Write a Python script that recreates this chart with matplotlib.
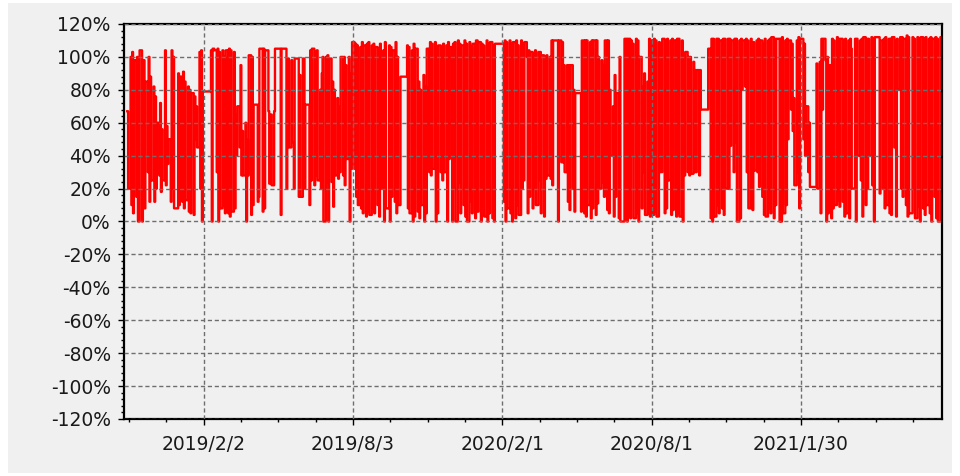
import pandas as pd
import matplotlib
matplotlib.use("Agg")
import matplotlib.pyplot as plt
import matplotlib.dates as mdates
from matplotlib.patches import Rectangle

# trading days with market closures (CN exchange holidays)
start_day, end_day = "2018-11-01", "2021-07-20"
closed = [
    ("2018-12-31", "2019-01-01"), ("2019-02-04", "2019-02-08"),
    ("2019-04-05", "2019-04-05"), ("2019-05-01", "2019-05-03"),
    ("2019-06-07", "2019-06-07"), ("2019-09-13", "2019-09-13"),
    ("2019-10-01", "2019-10-07"), ("2020-01-01", "2020-01-01"),
    ("2020-01-24", "2020-01-31"), ("2020-04-06", "2020-04-06"),
    ("2020-05-01", "2020-05-05"), ("2020-06-25", "2020-06-26"),
    ("2020-10-01", "2020-10-08"), ("2021-01-01", "2021-01-01"),
    ("2021-02-11", "2021-02-17"), ("2021-04-05", "2021-04-05"),
    ("2021-05-03", "2021-05-05"), ("2021-06-14", "2021-06-14"),
]

# position (%) per trading day, one inner list per month
vals_2018 = [  # starts November
    [67, 20, 100, 10, 103, 5, 98, 15, 100, 0, 0, 104, 0, 60, 98, 8, 85, 30, 100, 12, 88, 25],
    [82, 12, 76, 20, 60, 28, 72, 18, 56, 25, 104, 22, 58, 35, 50, 12, 104, 20, 100, 8],
]
vals_2019 = [
    [90, 10, 88, 12, 91, 8, 85, 13, 82, 6, 80, 5, 78, 4, 76, 50, 70, 45, 103, 20, 104, 0],
    [79, 104, 0, 105, 105, 104, 30, 105, 0, 103, 8, 104, 10, 100, 5],
    [104, 5, 105, 3, 104, 6, 103, 8, 65, 40, 70, 45, 95, 28, 55, 28, 60, 0, 50, 28, 101],
    [4, 100, 10, 71, 71, 12, 15, 105, 105, 6, 105, 8, 104, 104, 67, 23, 23, 65, 22, 67, 105],
    [105, 4, 105, 105, 105, 105, 20, 99, 99, 45, 98, 48, 48, 20, 99, 99, 99, 15, 89, 15],
    [99, 99, 20, 71, 71, 10, 104, 25, 105, 22, 103, 28, 104, 25, 80, 20, 90, 100, 0],
    [100, 24, 101, 0, 99, 24, 85, 9, 80, 28, 75, 26, 70, 30, 100, 28, 100, 22, 95, 38, 100, 0, 90],
    [32, 109, 32, 108, 15, 107, 10, 106, 8, 109, 5, 107, 3, 108, 6, 109, 4, 107, 8, 108, 5, 106],
    [10, 105, 3, 108, 20, 104, 0, 109, 8, 107, 0, 106, 15, 104, 12, 109, 5, 100, 10, 88],
    [107, 8, 106, 5, 104, 0, 108, 3, 105, 6, 85, 2, 80, 10, 89, 0, 82, 5],
    [105, 30, 109, 28, 108, 32, 109, 0, 106, 5, 107, 30, 106, 25, 108, 30, 107, 0, 109, 38, 106],
    [0, 108, 20, 109, 0, 110, 24, 108, 5, 107, 10, 110, 3, 108, 0, 109, 12, 106, 5, 108, 2, 110],
]
vals_2020 = [
    [6, 109, 0, 108, 10, 107, 3, 110, 0, 108, 5, 109, 2, 107, 0, 108],
    [12, 110, 0, 109, 8, 110, 5, 108, 0, 109, 2, 110, 10, 107, 4, 110, 20, 108, 25, 109],
    [100, 5, 104, 15, 103, 8, 102, 20, 104, 10, 103, 25, 103, 5, 101, 3, 100, 26, 101, 28, 100, 26],
    [110, 22, 110, 110, 110, 0, 110, 36, 109, 36, 95, 30, 95, 12, 95, 7, 95, 20, 80, 6, 78],
    [78, 6, 110, 5, 110, 3, 110, 10, 109, 2, 110, 8, 110, 4, 110, 11, 100, 20],
    [98, 24, 95, 15, 110, 7, 110, 5, 80, 40, 70, 3, 89, 15, 78, 2, 100, 0, 111, 1],
    [111, 0, 111, 2, 110, 40, 108, 2, 111, 5, 110, 0, 100, 8, 82, 30, 90, 4, 85, 5, 111, 3, 110],
    [4, 111, 6, 110, 3, 109, 30, 108, 30, 111, 5, 110, 8, 111, 25, 110, 4, 111, 7, 110, 3],
    [111, 5, 111, 3, 110, 0, 97, 28, 103, 30, 100, 28, 100, 29, 97, 30, 92, 30, 92, 28, 92, 68],
    [105, 2, 111, 0, 111, 3, 111, 10, 111, 5, 110, 8, 111, 4, 111, 20],
    [111, 20, 111, 46, 110, 30, 111, 48, 111, 0, 110, 2, 111, 80, 110, 82, 111, 30, 110, 8, 111],
    [40, 7, 109, 31, 110, 30, 111, 21, 110, 15, 108, 4, 111, 3, 110, 8, 111, 5, 112, 2, 111, 10, 111],
]
vals_2021 = [
    [0, 111, 0, 112, 5, 110, 10, 111, 50, 110, 68, 108, 55, 75, 22, 110, 30, 112, 8, 111],
    [111, 50, 108, 40, 70, 30, 60, 21, 96, 20, 97, 5, 111, 68, 111],
    [98, 0, 100, 5, 95, 2, 111, 8, 110, 10, 112, 13, 111, 9, 111, 12, 110, 3, 111, 5, 110, 2, 111],
    [105, 20, 111, 0, 111, 40, 110, 25, 111, 3, 112, 10, 111, 20, 111, 40, 112, 22, 111, 0, 112],
    [17, 110, 20, 111, 8, 112, 10, 111, 5, 111, 4, 112, 45, 110, 3, 111, 80, 112],
    [20, 112, 15, 111, 10, 113, 3, 112, 5, 112, 20, 111, 2, 112, 9, 111, 0, 112, 8, 111, 4],
    [112, 10, 111, 5, 112, 0, 111, 15, 112, 2, 111, 0, 112, 5],
]

yticks = list(range(-120, 121, 20))
first_tick = pd.Timestamp("2019-02-02")

# build the trading calendar
cal = pd.bdate_range(start_day, end_day)
off = pd.DatetimeIndex([])
for a, b in closed:
    off = off.append(pd.date_range(a, b))
cal = cal[~cal.isin(off)]

dates, values = [], []
for year, m0, months in [(2018, 11, vals_2018), (2019, 1, vals_2019),
                         (2020, 1, vals_2020), (2021, 1, vals_2021)]:
    for i, mv in enumerate(months):
        days = cal[(cal.year == year) & (cal.month == m0 + i)]
        n = min(len(days), len(mv))
        dates.extend(days[:n])
        values.extend(mv[:n])

bg = "#f0f0f0"
fig = plt.figure(figsize=(9.6, 4.76), dpi=100, facecolor="white")
fig.patches.append(Rectangle((8 / 960, 3 / 476), 944 / 960, 470 / 476,
                             transform=fig.transFigure, facecolor=bg,
                             edgecolor="none", zorder=-1))
ax = fig.add_axes([124 / 960, 1 - 419 / 476, 818 / 960, 395 / 476])
ax.set_facecolor(bg)

ax.plot(dates, values, drawstyle="steps-post", color="#ff0000", lw=1.7)

ax.set_ylim(-120, 120)
ax.set_xlim(pd.Timestamp("2018-10-28"), pd.Timestamp("2021-07-21"))

ax.set_yticks(yticks)
ax.set_yticklabels([f"{v}%" for v in yticks])
ax.set_yticks(range(-120, 121, 4), minor=True)

base = mdates.date2num(first_tick)
majors = [first_tick + pd.Timedelta(days=182 * k) for k in range(5)]
ax.set_xticks(majors)
ax.set_xticklabels([f"{d.year}/{d.month}/{d.day}" for d in majors])
lo, hi = ax.get_xlim()
ax.set_xticks([base + 45.5 * k for k in range(-3, 20) if lo <= base + 45.5 * k <= hi], minor=True)

ax.tick_params(axis="both", which="major", direction="out", length=4.5, width=1,
               color="black", labelsize=13.5, labelcolor="#1a1a1a")
ax.tick_params(axis="both", which="minor", direction="out", length=2.5, width=1, color="black")
ax.tick_params(axis="x", which="major", pad=7)
ax.tick_params(axis="y", which="major", pad=5)

ax.grid(True, which="major", color="#6e6e6e", linestyle=(0, (3, 2)), lw=1)
ax.set_axisbelow(False)
for s in ax.spines.values():
    s.set_color("black")
    s.set_linewidth(1.6)

fig.savefig("out.png", dpi=100, facecolor=fig.get_facecolor())
